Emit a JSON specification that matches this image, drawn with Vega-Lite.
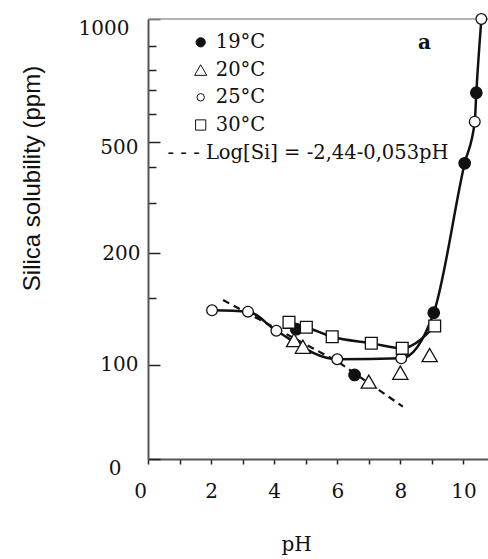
{
  "$schema": "https://vega.github.io/schema/vega-lite/v6.json",
  "width": 340,
  "height": 440,
  "autosize": {"type": "none"},
  "padding": {"left": 148, "top": 19, "right": 0, "bottom": 100},
  "background": "white",
  "config": {"view": {"stroke": null}},
  "resolve": {"scale": {"size": "independent"}},
  "datasets": {
    "points": [
      {"series": "19°C", "pH": 4.70, "ppm": 126.8, "curve": "none"},
      {"series": "19°C", "pH": 6.55, "ppm": 89.4, "curve": "none"},
      {"series": "19°C", "pH": 9.06, "ppm": 139.2, "curve": "A"},
      {"series": "19°C", "pH": 10.04, "ppm": 414, "curve": "A"},
      {"series": "19°C", "pH": 10.41, "ppm": 689, "curve": "A"},
      {"series": "20°C", "pH": 4.63, "ppm": 118.7, "curve": "none"},
      {"series": "20°C", "pH": 4.91, "ppm": 113.7, "curve": "none"},
      {"series": "20°C", "pH": 7.0, "ppm": 82.3, "curve": "none"},
      {"series": "20°C", "pH": 8.0, "ppm": 91.8, "curve": "none"},
      {"series": "20°C", "pH": 8.93, "ppm": 107.5, "curve": "none"},
      {"series": "25°C", "pH": 2.03, "ppm": 141, "curve": "A"},
      {"series": "25°C", "pH": 3.17, "ppm": 140, "curve": "A"},
      {"series": "25°C", "pH": 4.07, "ppm": 125.7, "curve": "A"},
      {"series": "25°C", "pH": 6.0, "ppm": 104.3, "curve": "A"},
      {"series": "25°C", "pH": 8.03, "ppm": 105, "curve": "A"},
      {"series": "25°C", "pH": 10.36, "ppm": 573.6, "curve": "A"},
      {"series": "25°C", "pH": 10.57, "ppm": 1000, "curve": "A"},
      {"series": "30°C", "pH": 4.47, "ppm": 132, "curve": "B"},
      {"series": "30°C", "pH": 5.02, "ppm": 128.3, "curve": "B"},
      {"series": "30°C", "pH": 5.84, "ppm": 121.2, "curve": "B"},
      {"series": "30°C", "pH": 7.08, "ppm": 116.3, "curve": "B"},
      {"series": "30°C", "pH": 8.06, "ppm": 112.5, "curve": "B"},
      {"series": "30°C", "pH": 9.09, "ppm": 129.2, "curve": "B"}
    ],
    "fit": [
      {"pH": 2.38, "ppm": 148.7},
      {"pH": 6.01, "ppm": 102.6},
      {"pH": 8.08, "ppm": 55.8}
    ],
    "border": [
      {"pH": 0, "pHend": 10.78, "ppm": 1000}
    ],
    "legendSymbols": [
      {"series": "19°C", "pH": 1.67, "ppm": 912.7},
      {"series": "20°C", "pH": 1.67, "ppm": 801},
      {"series": "25°C", "pH": 1.67, "ppm": 670},
      {"series": "30°C", "pH": 1.67, "ppm": 561.8}
    ],
    "legendTexts": [
      {"pH": 2.15, "ppm": 912.7, "label": "19°C"},
      {"pH": 2.15, "ppm": 801, "label": "20°C"},
      {"pH": 2.15, "ppm": 670, "label": "25°C"},
      {"pH": 2.15, "ppm": 561.8, "label": "30°C"},
      {"pH": 0.62, "ppm": 454.9, "label": "- - - Log[Si] = -2,44-0,053pH"}
    ],
    "panel": [
      {"pH": 8.77, "ppm": 909, "label": "a"}
    ]
  },
  "encoding": {
    "x": {
      "field": "pH", "type": "quantitative", "title": "pH",
      "scale": {"domain": [0, 10.78], "nice": false, "zero": false},
      "axis": {
        "values": [0, 1, 2, 3, 4, 5, 6, 7, 8, 9, 10],
        "format": "d",
        "labelExpr": "datum.value % 2 == 0 ? datum.label : ''",
        "grid": false,
        "domainColor": "#555", "domainWidth": 2,
        "tickColor": "#222", "tickWidth": 1.5, "tickSize": 5,
        "labelFont": "DejaVu Serif", "labelFontSize": 20, "labelColor": "#111",
        "labelBaseline": "middle", "labelPadding": 27, "labelFlush": false,
        "labelOffset": {"condition": {"test": "datum.value == 0", "value": -8}, "value": 0},
        "titleFont": "DejaVu Serif", "titleFontSize": 20, "titleFontWeight": "normal", "titleColor": "#111",
        "titleX": 148, "titleY": 85, "titleBaseline": "middle", "titleAlign": "center"
      }
    },
    "y": {
      "field": "ppm", "type": "quantitative", "title": "Silica solubility  (ppm)",
      "scale": {
        "domain": [0, 100, 150, 200, 300, 400, 500, 600, 700, 800, 900, 1000],
        "range": [440, 346, 279.3, 234, 184.3, 147.7, 123.3, 95.3, 71, 51.3, 26.7, 0],
        "nice": false, "zero": false
      },
      "axis": {
        "values": [0, 100, 150, 200, 300, 400, 500, 600, 700, 800, 900, 1000],
        "format": "d",
        "labelExpr": "indexof([0, 100, 200, 500, 1000], datum.value) >= 0 ? datum.label : ''",
        "grid": false,
        "domainColor": "#555", "domainWidth": 2,
        "tickColor": "#222", "tickWidth": 1.5,
        "tickSize": {"condition": {"test": "indexof([0, 100, 200, 500, 1000], datum.value) >= 0", "value": -12}, "value": -8},
        "labelFont": "DejaVu Serif", "labelFontSize": 20, "labelColor": "#111",
        "labelBaseline": "middle", "labelAlign": "right", "labelFlush": false,
        "labelPadding": {"condition": [
          {"test": "datum.value == 1000", "value": 31},
          {"test": "datum.value == 0", "value": 39},
          {"test": "datum.value == 200", "value": 20}
        ], "value": 22},
        "labelOffset": {"condition": [
          {"test": "datum.value == 1000", "value": 9},
          {"test": "datum.value == 0", "value": 9},
          {"test": "datum.value == 500", "value": 5},
          {"test": "datum.value == 200", "value": 0}
        ], "value": -1},
        "titleFont": "Liberation Sans", "titleFontSize": 24, "titleFontWeight": "normal", "titleColor": "#111",
        "titleX": -116, "titleY": 159, "titleBaseline": "middle", "titleAlign": "center", "titleAngle": 270
      }
    }
  },
  "layer": [
    {
      "data": {"name": "border"},
      "mark": {"type": "rule", "color": "#9a9a9a", "strokeWidth": 1.5},
      "encoding": {"x2": {"field": "pHend"}}
    },
    {
      "data": {"name": "fit"},
      "mark": {"type": "line", "color": "#111", "strokeWidth": 2.2, "strokeDash": [7, 5]},
      "encoding": {}
    },
    {
      "data": {"name": "points"},
      "transform": [{"filter": "datum.curve != 'none'"}],
      "mark": {"type": "line", "color": "#111", "strokeWidth": 2.5, "interpolate": "monotone"},
      "encoding": {"detail": {"field": "curve"}}
    },
    {
      "data": {"name": "points"},
      "mark": {"type": "point", "filled": false, "stroke": "#111", "strokeWidth": 1.3, "opacity": 1},
      "encoding": {
        "shape": {"field": "series", "type": "nominal", "legend": null,
          "scale": {"domain": ["19°C", "20°C", "25°C", "30°C"], "range": ["circle", "triangle-up", "circle", "square"]}},
        "fill": {"field": "series", "type": "nominal", "legend": null,
          "scale": {"domain": ["19°C", "20°C", "25°C", "30°C"], "range": ["#111", "white", "white", "white"]}},
        "size": {"field": "series", "type": "nominal", "legend": null,
          "scale": {"type": "ordinal", "domain": ["19°C", "20°C", "25°C", "30°C"], "range": [130, 230, 115, 140]}}
      }
    },
    {
      "data": {"name": "legendSymbols"},
      "mark": {"type": "point", "filled": false, "stroke": "#111", "strokeWidth": 1, "opacity": 1},
      "encoding": {
        "shape": {"field": "series", "type": "nominal", "legend": null},
        "fill": {"field": "series", "type": "nominal", "legend": null},
        "size": {"field": "series", "type": "nominal", "legend": null,
          "scale": {"type": "ordinal", "domain": ["19°C", "20°C", "25°C", "30°C"], "range": [85, 150, 55, 105]}}
      }
    },
    {
      "data": {"name": "legendTexts"},
      "mark": {"type": "text", "align": "left", "baseline": "middle", "font": "DejaVu Serif", "fontSize": 19.5, "color": "#111"},
      "encoding": {"text": {"field": "label"}}
    },
    {
      "data": {"name": "panel"},
      "mark": {"type": "text", "align": "center", "baseline": "middle", "font": "DejaVu Serif", "fontSize": 20, "fontWeight": "bold", "color": "#111"},
      "encoding": {"text": {"field": "label"}}
    }
  ]
}
